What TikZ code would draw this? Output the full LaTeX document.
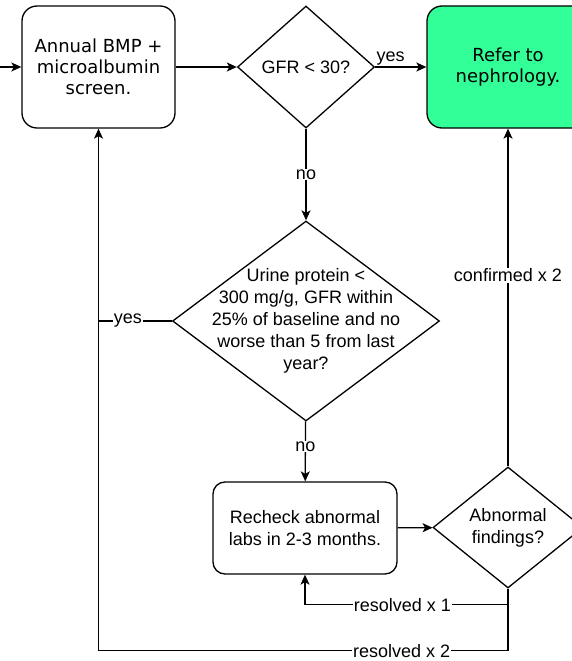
\documentclass[tikz,border=0pt]{standalone}
\usepackage{fontspec}
\setmainfont{Liberation Sans}
\newfontfamily\boxfont{DejaVu Sans}
\usetikzlibrary{shapes.geometric,arrows.meta}
\definecolor{refgreen}{RGB}{51,255,153}

\begin{document}
\begin{tikzpicture}[x=1pt,y=-1pt,line width=1.3pt,
  box/.style={draw, rounded corners=15pt, inner sep=0pt, align=center, font=\boxfont\fontsize{18}{21}\selectfont},
  roundbox/.style={draw, rounded corners=12pt, inner sep=0pt, align=center, font=\fontsize{18}{22}\selectfont},
  dia/.style={draw, diamond, inner sep=0pt},
  txt/.style={align=center, font=\fontsize{18}{22}\selectfont},
  lbl/.style={fill=white, inner sep=1pt, font=\fontsize{18}{22}\selectfont},
  arr/.style={-{Stealth[length=10pt,width=9pt,inset=2.5pt]}}]

\useasboundingbox (0,0) rectangle (572,661);

%%%%%%%%%%%%%-------------boxes
\node[box, minimum width=153pt, minimum height=122pt] (screen) at (98.5,67) {Annual BMP +\\microalbumin\\screen.};
\node[box, fill=refgreen, minimum width=162pt, minimum height=122pt] (refer) at (508,67) {Refer to\\nephrology.};
\node[roundbox, minimum width=184pt, minimum height=92pt] (recheck) at (305,528) {Recheck abnormal\\labs in 2-3 months.};

%%%%%%%%%%%%%-------------decisions
\node[dia, minimum width=137pt, minimum height=122pt] (gfr) at (306,67) {};
\node[txt] (gfrtext) at (gfr) {GFR < 30?};
\node[dia, minimum width=267pt, minimum height=200pt] (prot) at (306,321) {};
\node[txt] (prottext) at (prot) {Urine protein <\\300 mg/g, GFR within\\25\% of baseline and no\\worse than 5 from last\\year?};
\node[dia, minimum width=150pt, minimum height=121pt] (abn) at (508,527.5) {};
\node[txt] (abntext) at (abn) {Abnormal\\findings?};

\coordinate (in) at (0,67);

%%%%%%%%%%%%%-------------connectors
\draw[arr] (in) -- (screen);
\draw[arr] (screen) -- (gfr);
\draw[arr] (gfr) -- node[pos=.3, anchor=south, inner sep=1pt, font=\fontsize{18}{22}\selectfont]{yes} (refer);
\draw[arr] (gfr) -- node[lbl]{no} (prot);
\draw[arr] (prot) -- node[lbl, pos=.42]{no} (recheck);
\draw[arr] (recheck) -- (abn);
\draw[arr] (abn) -- node[lbl, pos=.566]{confirmed x 2} (refer);
\draw (prot.west) -- node[lbl, pos=.6]{yes} (prot.west -| screen.south);
\draw[arr] (abn.south) -- ++(0,16) -| node[lbl, pos=.26]{resolved x 1} (recheck.south);
\draw[arr] (abn.south) -- ++(0,62) -| node[lbl, pos=.13]{resolved x 2} (screen.south);

\end{tikzpicture}
\end{document}
